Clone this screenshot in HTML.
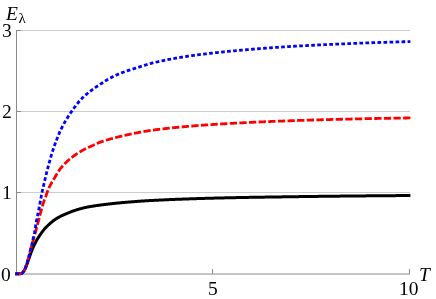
<!DOCTYPE html>
<html><head><meta charset="utf-8"><style>
html,body{margin:0;padding:0;background:#fff;}
body{width:436px;height:299px;overflow:hidden;position:relative;font-family:"Liberation Serif",serif;}
svg{position:absolute;left:0;top:0;}
.t{position:absolute;filter:grayscale(1);will-change:transform;font-size:19.5px;line-height:1;color:#000;white-space:nowrap;}
</style></head><body>
<svg width="436" height="299" viewBox="0 0 436 299">
<g stroke="#cccccc" stroke-width="1" fill="none">
<line x1="16.5" y1="30.5" x2="410" y2="30.5"/>
<line x1="16.5" y1="111.5" x2="410" y2="111.5"/>
<line x1="16.5" y1="192.5" x2="410" y2="192.5"/>
<line x1="16.5" y1="273.5" x2="410" y2="273.5"/>
</g>
<g stroke="#8a8a8a" stroke-width="1" fill="none">
<line x1="16.5" y1="30" x2="16.5" y2="274"/>
<line x1="16" y1="274.3" x2="410" y2="274.3" stroke="#b4b4b4"/>
<line x1="212.5" y1="269" x2="212.5" y2="274"/>
<line x1="409.5" y1="269" x2="409.5" y2="274"/>
<line x1="16.5" y1="30.5" x2="21" y2="30.5"/>
<line x1="16.5" y1="111.5" x2="21" y2="111.5"/>
<line x1="16.5" y1="192.5" x2="21" y2="192.5"/>
</g>
<path d="M15.30,273.80 L16.80,273.80 L16.84,273.80 L16.90,273.80 L16.98,273.80 L17.08,273.80 L17.19,273.80 L17.32,273.80 L17.45,273.80 L17.60,273.80 L17.75,273.80 L17.91,273.80 L18.08,273.80 L18.26,273.80 L18.45,273.80 L18.64,273.80 L18.85,273.80 L19.05,273.80 L19.27,273.80 L19.49,273.79 L19.72,273.78 L19.95,273.76 L20.19,273.74 L20.43,273.70 L20.68,273.64 L20.94,273.56 L21.20,273.46 L21.47,273.33 L21.74,273.17 L22.02,272.98 L22.30,272.75 L22.58,272.49 L22.88,272.19 L23.17,271.85 L23.47,271.47 L23.78,271.06 L24.09,270.61 L24.40,270.10 L24.72,269.51 L25.05,268.86 L25.37,268.14 L25.71,267.37 L26.04,266.55 L26.38,265.69 L26.73,264.80 L27.07,263.88 L27.43,262.92 L27.78,261.91 L28.14,260.88 L28.51,259.83 L28.88,258.77 L29.25,257.70 L29.62,256.61 L30.00,255.52 L30.38,254.44 L30.77,253.36 L31.16,252.27 L31.55,251.19 L31.95,250.12 L32.35,249.09 L32.75,248.11 L33.16,247.18 L33.57,246.29 L33.99,245.42 L34.40,244.57 L34.82,243.74 L35.25,242.93 L35.68,242.13 L36.11,241.34 L36.54,240.56 L36.98,239.80 L37.42,239.05 L37.86,238.32 L38.31,237.60 L38.76,236.89 L39.21,236.20 L39.67,235.51 L40.12,234.83 L40.59,234.16 L41.05,233.50 L41.52,232.84 L41.99,232.20 L42.46,231.56 L42.94,230.94 L43.42,230.33 L43.90,229.73 L44.39,229.15 L44.88,228.57 L45.37,228.02 L45.86,227.48 L46.36,226.95 L46.86,226.44 L47.36,225.95 L47.87,225.47 L48.37,225.01 L48.88,224.55 L49.40,224.10 L49.91,223.65 L50.43,223.19 L50.95,222.74 L51.48,222.28 L52.00,221.83 L52.53,221.39 L53.07,220.97 L53.60,220.56 L54.14,220.17 L54.68,219.79 L55.22,219.43 L55.77,219.07 L56.31,218.72 L56.86,218.37 L57.42,218.04 L57.97,217.71 L58.53,217.39 L59.09,217.08 L59.65,216.77 L60.22,216.47 L60.78,216.18 L61.35,215.89 L61.93,215.61 L62.50,215.34 L63.08,215.07 L63.66,214.81 L64.24,214.55 L64.82,214.30 L65.41,214.05 L66.00,213.80 L66.59,213.56 L67.19,213.31 L67.78,213.08 L68.38,212.84 L68.98,212.60 L69.58,212.36 L70.19,212.13 L70.80,211.89 L71.41,211.66 L72.02,211.43 L72.64,211.20 L73.25,210.98 L73.87,210.76 L74.49,210.55 L75.12,210.33 L75.74,210.13 L76.37,209.93 L77.00,209.73 L77.63,209.54 L78.27,209.36 L78.91,209.17 L79.54,208.99 L80.19,208.81 L80.83,208.64 L81.48,208.46 L82.12,208.29 L82.77,208.13 L83.43,207.96 L84.08,207.81 L84.74,207.65 L85.39,207.50 L86.05,207.36 L86.72,207.22 L87.38,207.09 L88.05,206.97 L88.72,206.85 L89.39,206.73 L90.06,206.61 L90.74,206.50 L91.41,206.38 L92.09,206.27 L92.78,206.16 L93.46,206.05 L94.14,205.95 L94.83,205.84 L95.52,205.74 L96.21,205.64 L96.91,205.54 L97.60,205.44 L98.30,205.34 L99.00,205.24 L99.70,205.15 L100.40,205.05 L101.11,204.96 L101.82,204.86 L102.53,204.77 L103.24,204.68 L103.95,204.59 L104.67,204.50 L105.38,204.42 L106.10,204.33 L106.82,204.24 L107.55,204.16 L108.27,204.07 L109.00,203.99 L109.73,203.91 L110.46,203.82 L111.19,203.74 L111.93,203.66 L112.66,203.58 L113.40,203.50 L114.14,203.42 L114.88,203.34 L115.63,203.26 L116.37,203.19 L117.12,203.11 L117.87,203.04 L118.62,202.96 L119.38,202.89 L120.13,202.82 L120.89,202.74 L121.65,202.67 L122.41,202.60 L123.17,202.53 L123.93,202.46 L124.70,202.39 L125.47,202.33 L126.24,202.26 L127.01,202.20 L127.78,202.13 L128.56,202.07 L129.34,202.00 L130.11,201.94 L130.89,201.88 L131.68,201.82 L132.46,201.75 L133.25,201.69 L134.04,201.63 L134.82,201.57 L135.62,201.51 L136.41,201.46 L137.20,201.40 L138.00,201.34 L138.80,201.29 L139.60,201.23 L140.40,201.17 L141.20,201.12 L142.01,201.07 L142.82,201.01 L143.62,200.96 L144.43,200.91 L145.25,200.86 L146.06,200.81 L146.88,200.76 L147.69,200.71 L148.51,200.66 L149.33,200.62 L150.16,200.57 L150.98,200.52 L151.80,200.48 L152.63,200.43 L153.46,200.39 L154.29,200.34 L155.12,200.30 L155.96,200.26 L156.79,200.21 L157.63,200.17 L158.47,200.13 L159.31,200.09 L160.15,200.04 L161.00,200.00 L161.84,199.96 L162.69,199.92 L163.54,199.88 L164.39,199.84 L165.24,199.81 L166.10,199.77 L166.95,199.73 L167.81,199.69 L168.67,199.65 L169.53,199.62 L170.39,199.58 L171.26,199.54 L172.12,199.51 L172.99,199.47 L173.86,199.44 L174.73,199.40 L175.60,199.37 L176.47,199.33 L177.35,199.30 L178.22,199.26 L179.10,199.23 L179.98,199.20 L180.86,199.16 L181.74,199.13 L182.63,199.10 L183.51,199.07 L184.40,199.03 L185.29,199.00 L186.18,198.97 L187.07,198.94 L187.97,198.91 L188.86,198.88 L189.76,198.85 L190.66,198.82 L191.56,198.79 L192.46,198.76 L193.36,198.73 L194.27,198.70 L195.17,198.67 L196.08,198.64 L196.99,198.61 L197.90,198.58 L198.81,198.56 L199.73,198.53 L200.64,198.50 L201.56,198.47 L202.48,198.45 L203.40,198.42 L204.32,198.39 L205.24,198.37 L206.17,198.34 L207.09,198.31 L208.02,198.29 L208.95,198.26 L209.88,198.24 L210.81,198.21 L211.75,198.19 L212.68,198.16 L213.62,198.14 L214.56,198.11 L215.50,198.09 L216.44,198.07 L217.38,198.04 L218.32,198.02 L219.27,198.00 L220.22,197.97 L221.16,197.95 L222.11,197.93 L223.06,197.90 L224.02,197.88 L224.97,197.86 L225.93,197.84 L226.88,197.82 L227.84,197.79 L228.80,197.77 L229.76,197.75 L230.73,197.73 L231.69,197.71 L232.66,197.69 L233.62,197.67 L234.59,197.65 L235.56,197.63 L236.54,197.61 L237.51,197.59 L238.48,197.57 L239.46,197.55 L240.44,197.53 L241.41,197.51 L242.39,197.50 L243.38,197.48 L244.36,197.46 L245.34,197.44 L246.33,197.42 L247.32,197.41 L248.31,197.39 L249.30,197.37 L250.29,197.36 L251.28,197.34 L252.27,197.32 L253.27,197.31 L254.27,197.29 L255.26,197.28 L256.26,197.26 L257.27,197.24 L258.27,197.23 L259.27,197.21 L260.28,197.20 L261.28,197.18 L262.29,197.17 L263.30,197.15 L264.31,197.13 L265.33,197.12 L266.34,197.10 L267.35,197.09 L268.37,197.07 L269.39,197.06 L270.41,197.04 L271.43,197.03 L272.45,197.01 L273.47,197.00 L274.50,196.98 L275.52,196.97 L276.55,196.95 L277.58,196.94 L278.61,196.92 L279.64,196.91 L280.67,196.89 L281.71,196.88 L282.74,196.86 L283.78,196.85 L284.82,196.83 L285.86,196.82 L286.90,196.80 L287.94,196.79 L288.99,196.77 L290.03,196.76 L291.08,196.74 L292.12,196.73 L293.17,196.71 L294.22,196.70 L295.27,196.68 L296.33,196.67 L297.38,196.65 L298.44,196.64 L299.49,196.62 L300.55,196.61 L301.61,196.59 L302.67,196.58 L303.73,196.57 L304.80,196.55 L305.86,196.54 L306.93,196.52 L308.00,196.51 L309.06,196.49 L310.13,196.48 L311.21,196.47 L312.28,196.45 L313.35,196.44 L314.43,196.43 L315.50,196.41 L316.58,196.40 L317.66,196.39 L318.74,196.37 L319.82,196.36 L320.90,196.35 L321.99,196.33 L323.07,196.32 L324.16,196.31 L325.25,196.30 L326.34,196.28 L327.43,196.27 L328.52,196.26 L329.61,196.24 L330.71,196.23 L331.80,196.22 L332.90,196.21 L334.00,196.20 L335.10,196.18 L336.20,196.17 L337.30,196.16 L338.40,196.15 L339.51,196.14 L340.61,196.12 L341.72,196.11 L342.83,196.10 L343.94,196.09 L345.05,196.08 L346.16,196.07 L347.28,196.05 L348.39,196.04 L349.51,196.03 L350.62,196.02 L351.74,196.01 L352.86,196.00 L353.98,195.99 L355.10,195.98 L356.23,195.97 L357.35,195.95 L358.48,195.94 L359.61,195.93 L360.73,195.92 L361.86,195.91 L362.99,195.90 L364.13,195.89 L365.26,195.88 L366.39,195.87 L367.53,195.86 L368.67,195.85 L369.80,195.84 L370.94,195.83 L372.08,195.82 L373.23,195.81 L374.37,195.80 L375.51,195.79 L376.66,195.78 L377.80,195.77 L378.95,195.76 L380.10,195.75 L381.25,195.74 L382.40,195.73 L383.56,195.72 L384.71,195.71 L385.87,195.70 L387.02,195.69 L388.18,195.68 L389.34,195.67 L390.50,195.66 L391.66,195.65 L392.82,195.64 L393.99,195.63 L395.15,195.63 L396.32,195.62 L397.48,195.61 L398.65,195.60 L399.82,195.59 L400.99,195.58 L402.16,195.57 L403.34,195.56 L404.51,195.55 L405.69,195.54 L406.86,195.54 L408.04,195.53 L409.22,195.52 L410.40,195.51" stroke="#000" stroke-width="3" fill="none" stroke-linejoin="round"/>
<path d="M15.30,273.80 L16.80,273.80 L16.84,273.80 L16.90,273.80 L16.98,273.80 L17.08,273.80 L17.19,273.80 L17.32,273.80 L17.45,273.80 L17.60,273.80 L17.75,273.80 L17.91,273.80 L18.08,273.80 L18.26,273.80 L18.45,273.80 L18.64,273.80 L18.85,273.80 L19.05,273.80 L19.27,273.80 L19.49,273.80 L19.72,273.79 L19.95,273.79 L20.19,273.77 L20.43,273.75 L20.68,273.72 L20.94,273.66 L21.20,273.59 L21.47,273.49 L21.74,273.37 L22.02,273.20 L22.30,273.00 L22.58,272.75 L22.88,272.45 L23.17,272.10 L23.47,271.71 L23.78,271.25 L24.09,270.74 L24.40,270.15 L24.72,269.48 L25.05,268.73 L25.37,267.91 L25.71,267.02 L26.04,266.07 L26.38,265.07 L26.73,264.01 L27.07,262.89 L27.43,261.72 L27.78,260.49 L28.14,259.21 L28.51,257.89 L28.88,256.51 L29.25,255.05 L29.62,253.53 L30.00,251.98 L30.38,250.43 L30.77,248.90 L31.16,247.43 L31.55,245.98 L31.95,244.55 L32.35,243.13 L32.75,241.70 L33.16,240.26 L33.57,238.80 L33.99,237.34 L34.40,235.86 L34.82,234.38 L35.25,232.88 L35.68,231.35 L36.11,229.79 L36.54,228.19 L36.98,226.57 L37.42,224.93 L37.86,223.27 L38.31,221.58 L38.76,219.81 L39.21,218.00 L39.67,216.18 L40.12,214.37 L40.59,212.61 L41.05,210.89 L41.52,209.18 L41.99,207.48 L42.46,205.83 L42.94,204.25 L43.42,202.76 L43.90,201.38 L44.39,200.08 L44.88,198.82 L45.37,197.55 L45.86,196.24 L46.36,194.76 L46.86,193.18 L47.36,191.79 L47.87,190.48 L48.37,189.23 L48.88,188.05 L49.40,186.94 L49.91,185.89 L50.43,184.90 L50.95,183.94 L51.48,183.01 L52.00,182.10 L52.53,181.21 L53.07,180.33 L53.60,179.45 L54.14,178.57 L54.68,177.67 L55.22,176.76 L55.77,175.82 L56.31,174.89 L56.86,173.96 L57.42,173.04 L57.97,172.14 L58.53,171.27 L59.09,170.44 L59.65,169.66 L60.22,168.92 L60.78,168.21 L61.35,167.51 L61.93,166.83 L62.50,166.17 L63.08,165.52 L63.66,164.89 L64.24,164.27 L64.82,163.66 L65.41,163.07 L66.00,162.49 L66.59,161.92 L67.19,161.36 L67.78,160.82 L68.38,160.28 L68.98,159.75 L69.58,159.24 L70.19,158.73 L70.80,158.23 L71.41,157.75 L72.02,157.26 L72.64,156.79 L73.25,156.33 L73.87,155.87 L74.49,155.42 L75.12,154.98 L75.74,154.55 L76.37,154.12 L77.00,153.70 L77.63,153.29 L78.27,152.88 L78.91,152.48 L79.54,152.09 L80.19,151.71 L80.83,151.33 L81.48,150.96 L82.12,150.59 L82.77,150.24 L83.43,149.89 L84.08,149.54 L84.74,149.20 L85.39,148.87 L86.05,148.55 L86.72,148.23 L87.38,147.91 L88.05,147.60 L88.72,147.29 L89.39,146.98 L90.06,146.68 L90.74,146.38 L91.41,146.08 L92.09,145.78 L92.78,145.48 L93.46,145.16 L94.14,144.84 L94.83,144.51 L95.52,144.18 L96.21,143.86 L96.91,143.53 L97.60,143.22 L98.30,142.91 L99.00,142.62 L99.70,142.35 L100.40,142.09 L101.11,141.84 L101.82,141.59 L102.53,141.35 L103.24,141.11 L103.95,140.88 L104.67,140.65 L105.38,140.43 L106.10,140.20 L106.82,139.99 L107.55,139.77 L108.27,139.56 L109.00,139.35 L109.73,139.14 L110.46,138.94 L111.19,138.74 L111.93,138.54 L112.66,138.34 L113.40,138.14 L114.14,137.95 L114.88,137.76 L115.63,137.57 L116.37,137.38 L117.12,137.19 L117.87,137.01 L118.62,136.83 L119.38,136.64 L120.13,136.46 L120.89,136.28 L121.65,136.10 L122.41,135.92 L123.17,135.74 L123.93,135.57 L124.70,135.39 L125.47,135.22 L126.24,135.05 L127.01,134.87 L127.78,134.70 L128.56,134.53 L129.34,134.37 L130.11,134.20 L130.89,134.04 L131.68,133.87 L132.46,133.71 L133.25,133.55 L134.04,133.39 L134.82,133.23 L135.62,133.08 L136.41,132.92 L137.20,132.77 L138.00,132.62 L138.80,132.47 L139.60,132.32 L140.40,132.18 L141.20,132.03 L142.01,131.88 L142.82,131.74 L143.62,131.59 L144.43,131.44 L145.25,131.30 L146.06,131.16 L146.88,131.02 L147.69,130.88 L148.51,130.75 L149.33,130.63 L150.16,130.50 L150.98,130.39 L151.80,130.27 L152.63,130.16 L153.46,130.04 L154.29,129.93 L155.12,129.82 L155.96,129.71 L156.79,129.60 L157.63,129.50 L158.47,129.39 L159.31,129.29 L160.15,129.18 L161.00,129.08 L161.84,128.98 L162.69,128.88 L163.54,128.78 L164.39,128.68 L165.24,128.59 L166.10,128.49 L166.95,128.39 L167.81,128.30 L168.67,128.21 L169.53,128.11 L170.39,128.02 L171.26,127.93 L172.12,127.84 L172.99,127.75 L173.86,127.67 L174.73,127.58 L175.60,127.49 L176.47,127.41 L177.35,127.32 L178.22,127.24 L179.10,127.15 L179.98,127.07 L180.86,126.99 L181.74,126.91 L182.63,126.83 L183.51,126.75 L184.40,126.67 L185.29,126.59 L186.18,126.51 L187.07,126.43 L187.97,126.36 L188.86,126.28 L189.76,126.20 L190.66,126.13 L191.56,126.05 L192.46,125.98 L193.36,125.91 L194.27,125.83 L195.17,125.76 L196.08,125.69 L196.99,125.62 L197.90,125.55 L198.81,125.48 L199.73,125.41 L200.64,125.34 L201.56,125.27 L202.48,125.20 L203.40,125.14 L204.32,125.07 L205.24,125.01 L206.17,124.94 L207.09,124.87 L208.02,124.81 L208.95,124.75 L209.88,124.68 L210.81,124.62 L211.75,124.56 L212.68,124.50 L213.62,124.43 L214.56,124.37 L215.50,124.31 L216.44,124.25 L217.38,124.19 L218.32,124.13 L219.27,124.07 L220.22,124.02 L221.16,123.96 L222.11,123.90 L223.06,123.84 L224.02,123.79 L224.97,123.73 L225.93,123.67 L226.88,123.62 L227.84,123.56 L228.80,123.51 L229.76,123.45 L230.73,123.40 L231.69,123.35 L232.66,123.29 L233.62,123.24 L234.59,123.19 L235.56,123.13 L236.54,123.08 L237.51,123.03 L238.48,122.98 L239.46,122.93 L240.44,122.88 L241.41,122.83 L242.39,122.78 L243.38,122.73 L244.36,122.68 L245.34,122.63 L246.33,122.58 L247.32,122.53 L248.31,122.48 L249.30,122.44 L250.29,122.39 L251.28,122.34 L252.27,122.30 L253.27,122.25 L254.27,122.20 L255.26,122.16 L256.26,122.11 L257.27,122.07 L258.27,122.02 L259.27,121.98 L260.28,121.93 L261.28,121.89 L262.29,121.85 L263.30,121.80 L264.31,121.76 L265.33,121.72 L266.34,121.67 L267.35,121.63 L268.37,121.59 L269.39,121.55 L270.41,121.51 L271.43,121.46 L272.45,121.42 L273.47,121.38 L274.50,121.34 L275.52,121.30 L276.55,121.26 L277.58,121.22 L278.61,121.18 L279.64,121.14 L280.67,121.10 L281.71,121.06 L282.74,121.03 L283.78,120.99 L284.82,120.95 L285.86,120.91 L286.90,120.87 L287.94,120.84 L288.99,120.80 L290.03,120.76 L291.08,120.73 L292.12,120.69 L293.17,120.65 L294.22,120.62 L295.27,120.58 L296.33,120.54 L297.38,120.51 L298.44,120.47 L299.49,120.44 L300.55,120.40 L301.61,120.37 L302.67,120.33 L303.73,120.29 L304.80,120.26 L305.86,120.22 L306.93,120.19 L308.00,120.16 L309.06,120.12 L310.13,120.09 L311.21,120.05 L312.28,120.02 L313.35,119.99 L314.43,119.95 L315.50,119.92 L316.58,119.89 L317.66,119.86 L318.74,119.83 L319.82,119.79 L320.90,119.76 L321.99,119.73 L323.07,119.70 L324.16,119.67 L325.25,119.64 L326.34,119.61 L327.43,119.58 L328.52,119.56 L329.61,119.53 L330.71,119.50 L331.80,119.47 L332.90,119.44 L334.00,119.42 L335.10,119.39 L336.20,119.36 L337.30,119.34 L338.40,119.31 L339.51,119.28 L340.61,119.26 L341.72,119.23 L342.83,119.21 L343.94,119.18 L345.05,119.15 L346.16,119.13 L347.28,119.10 L348.39,119.08 L349.51,119.05 L350.62,119.03 L351.74,119.00 L352.86,118.98 L353.98,118.95 L355.10,118.93 L356.23,118.91 L357.35,118.88 L358.48,118.86 L359.61,118.83 L360.73,118.81 L361.86,118.79 L362.99,118.76 L364.13,118.74 L365.26,118.72 L366.39,118.69 L367.53,118.67 L368.67,118.65 L369.80,118.63 L370.94,118.60 L372.08,118.58 L373.23,118.56 L374.37,118.54 L375.51,118.52 L376.66,118.50 L377.80,118.47 L378.95,118.45 L380.10,118.43 L381.25,118.41 L382.40,118.39 L383.56,118.37 L384.71,118.35 L385.87,118.33 L387.02,118.31 L388.18,118.29 L389.34,118.27 L390.50,118.25 L391.66,118.23 L392.82,118.21 L393.99,118.19 L395.15,118.17 L396.32,118.15 L397.48,118.13 L398.65,118.11 L399.82,118.09 L400.99,118.07 L402.16,118.05 L403.34,118.03 L404.51,118.01 L405.69,118.00 L406.86,117.98 L408.04,117.96 L409.22,117.94 L410.40,117.92" stroke="#ff0000" stroke-width="2.8" fill="none" stroke-dasharray="7.3 2.337" stroke-dashoffset="0.00" stroke-linejoin="round"/>
<path d="M15.30,273.80 L16.80,273.80 L16.84,273.80 L16.90,273.80 L16.98,273.80 L17.08,273.80 L17.19,273.80 L17.32,273.80 L17.45,273.80 L17.60,273.80 L17.75,273.80 L17.91,273.80 L18.08,273.80 L18.26,273.80 L18.45,273.80 L18.64,273.80 L18.85,273.80 L19.05,273.80 L19.27,273.80 L19.49,273.80 L19.72,273.80 L19.95,273.79 L20.19,273.78 L20.43,273.76 L20.68,273.73 L20.94,273.69 L21.20,273.63 L21.47,273.54 L21.74,273.42 L22.02,273.26 L22.30,273.06 L22.58,272.82 L22.88,272.52 L23.17,272.16 L23.47,271.75 L23.78,271.27 L24.09,270.73 L24.40,270.12 L24.72,269.44 L25.05,268.70 L25.37,267.89 L25.71,267.01 L26.04,266.06 L26.38,265.06 L26.73,264.00 L27.07,262.89 L27.43,261.73 L27.78,260.51 L28.14,259.23 L28.51,257.91 L28.88,256.53 L29.25,255.10 L29.62,253.63 L30.00,252.11 L30.38,250.55 L30.77,248.96 L31.16,247.33 L31.55,245.68 L31.95,243.98 L32.35,242.25 L32.75,240.48 L33.16,238.68 L33.57,236.83 L33.99,234.95 L34.40,233.02 L34.82,230.74 L35.25,228.15 L35.68,225.49 L36.11,223.00 L36.54,220.75 L36.98,218.57 L37.42,216.42 L37.86,214.24 L38.31,211.98 L38.76,209.67 L39.21,207.33 L39.67,204.95 L40.12,202.52 L40.59,199.98 L41.05,197.41 L41.52,194.91 L41.99,192.58 L42.46,190.46 L42.94,188.43 L43.42,186.39 L43.90,184.26 L44.39,182.08 L44.88,179.90 L45.37,177.78 L45.86,175.72 L46.36,173.70 L46.86,171.72 L47.36,169.77 L47.87,167.84 L48.37,165.93 L48.88,164.05 L49.40,162.19 L49.91,160.33 L50.43,158.47 L50.95,156.64 L51.48,154.85 L52.00,153.11 L52.53,151.39 L53.07,149.72 L53.60,148.08 L54.14,146.50 L54.68,144.97 L55.22,143.48 L55.77,142.03 L56.31,140.59 L56.86,139.17 L57.42,137.75 L57.97,136.35 L58.53,134.97 L59.09,133.62 L59.65,132.31 L60.22,131.06 L60.78,129.85 L61.35,128.67 L61.93,127.52 L62.50,126.40 L63.08,125.30 L63.66,124.22 L64.24,123.16 L64.82,122.12 L65.41,121.10 L66.00,120.10 L66.59,119.12 L67.19,118.16 L67.78,117.21 L68.38,116.28 L68.98,115.36 L69.58,114.45 L70.19,113.55 L70.80,112.66 L71.41,111.78 L72.02,110.90 L72.64,110.02 L73.25,109.15 L73.87,108.28 L74.49,107.42 L75.12,106.57 L75.74,105.73 L76.37,104.90 L77.00,104.09 L77.63,103.29 L78.27,102.51 L78.91,101.74 L79.54,101.00 L80.19,100.27 L80.83,99.57 L81.48,98.89 L82.12,98.23 L82.77,97.60 L83.43,96.98 L84.08,96.37 L84.74,95.78 L85.39,95.19 L86.05,94.62 L86.72,94.06 L87.38,93.51 L88.05,92.97 L88.72,92.43 L89.39,91.91 L90.06,91.39 L90.74,90.88 L91.41,90.37 L92.09,89.87 L92.78,89.37 L93.46,88.88 L94.14,88.40 L94.83,87.92 L95.52,87.44 L96.21,86.96 L96.91,86.49 L97.60,86.02 L98.30,85.56 L99.00,85.09 L99.70,84.62 L100.40,84.15 L101.11,83.68 L101.82,83.21 L102.53,82.74 L103.24,82.28 L103.95,81.82 L104.67,81.37 L105.38,80.92 L106.10,80.47 L106.82,80.03 L107.55,79.60 L108.27,79.17 L109.00,78.75 L109.73,78.34 L110.46,77.94 L111.19,77.54 L111.93,77.15 L112.66,76.77 L113.40,76.40 L114.14,76.04 L114.88,75.69 L115.63,75.35 L116.37,75.01 L117.12,74.69 L117.87,74.37 L118.62,74.06 L119.38,73.76 L120.13,73.46 L120.89,73.16 L121.65,72.87 L122.41,72.58 L123.17,72.30 L123.93,72.02 L124.70,71.74 L125.47,71.47 L126.24,71.20 L127.01,70.93 L127.78,70.66 L128.56,70.40 L129.34,70.14 L130.11,69.88 L130.89,69.63 L131.68,69.37 L132.46,69.12 L133.25,68.87 L134.04,68.62 L134.82,68.38 L135.62,68.13 L136.41,67.89 L137.20,67.64 L138.00,67.40 L138.80,67.15 L139.60,66.89 L140.40,66.63 L141.20,66.37 L142.01,66.11 L142.82,65.84 L143.62,65.58 L144.43,65.32 L145.25,65.06 L146.06,64.81 L146.88,64.56 L147.69,64.31 L148.51,64.07 L149.33,63.84 L150.16,63.61 L150.98,63.39 L151.80,63.18 L152.63,62.98 L153.46,62.77 L154.29,62.57 L155.12,62.38 L155.96,62.18 L156.79,61.99 L157.63,61.79 L158.47,61.61 L159.31,61.42 L160.15,61.23 L161.00,61.05 L161.84,60.87 L162.69,60.69 L163.54,60.51 L164.39,60.34 L165.24,60.17 L166.10,59.99 L166.95,59.82 L167.81,59.66 L168.67,59.49 L169.53,59.33 L170.39,59.16 L171.26,59.00 L172.12,58.84 L172.99,58.69 L173.86,58.53 L174.73,58.38 L175.60,58.22 L176.47,58.07 L177.35,57.92 L178.22,57.77 L179.10,57.63 L179.98,57.48 L180.86,57.34 L181.74,57.19 L182.63,57.05 L183.51,56.91 L184.40,56.77 L185.29,56.64 L186.18,56.50 L187.07,56.36 L187.97,56.23 L188.86,56.10 L189.76,55.97 L190.66,55.84 L191.56,55.71 L192.46,55.58 L193.36,55.45 L194.27,55.33 L195.17,55.21 L196.08,55.08 L196.99,54.96 L197.90,54.84 L198.81,54.72 L199.73,54.60 L200.64,54.48 L201.56,54.37 L202.48,54.25 L203.40,54.14 L204.32,54.02 L205.24,53.91 L206.17,53.80 L207.09,53.69 L208.02,53.58 L208.95,53.47 L209.88,53.36 L210.81,53.25 L211.75,53.15 L212.68,53.04 L213.62,52.94 L214.56,52.83 L215.50,52.73 L216.44,52.63 L217.38,52.52 L218.32,52.42 L219.27,52.32 L220.22,52.22 L221.16,52.12 L222.11,52.02 L223.06,51.93 L224.02,51.83 L224.97,51.73 L225.93,51.64 L226.88,51.54 L227.84,51.45 L228.80,51.35 L229.76,51.26 L230.73,51.17 L231.69,51.07 L232.66,50.98 L233.62,50.89 L234.59,50.80 L235.56,50.71 L236.54,50.62 L237.51,50.53 L238.48,50.44 L239.46,50.35 L240.44,50.26 L241.41,50.17 L242.39,50.08 L243.38,50.00 L244.36,49.91 L245.34,49.82 L246.33,49.74 L247.32,49.65 L248.31,49.56 L249.30,49.48 L250.29,49.39 L251.28,49.31 L252.27,49.23 L253.27,49.14 L254.27,49.06 L255.26,48.98 L256.26,48.90 L257.27,48.81 L258.27,48.73 L259.27,48.65 L260.28,48.57 L261.28,48.49 L262.29,48.42 L263.30,48.34 L264.31,48.26 L265.33,48.18 L266.34,48.11 L267.35,48.03 L268.37,47.96 L269.39,47.88 L270.41,47.81 L271.43,47.73 L272.45,47.66 L273.47,47.59 L274.50,47.52 L275.52,47.45 L276.55,47.37 L277.58,47.30 L278.61,47.23 L279.64,47.17 L280.67,47.10 L281.71,47.03 L282.74,46.96 L283.78,46.90 L284.82,46.83 L285.86,46.76 L286.90,46.70 L287.94,46.64 L288.99,46.57 L290.03,46.51 L291.08,46.45 L292.12,46.38 L293.17,46.32 L294.22,46.26 L295.27,46.20 L296.33,46.14 L297.38,46.08 L298.44,46.02 L299.49,45.96 L300.55,45.90 L301.61,45.84 L302.67,45.79 L303.73,45.73 L304.80,45.67 L305.86,45.62 L306.93,45.56 L308.00,45.50 L309.06,45.45 L310.13,45.39 L311.21,45.34 L312.28,45.28 L313.35,45.23 L314.43,45.17 L315.50,45.12 L316.58,45.07 L317.66,45.01 L318.74,44.96 L319.82,44.91 L320.90,44.86 L321.99,44.80 L323.07,44.75 L324.16,44.70 L325.25,44.65 L326.34,44.60 L327.43,44.55 L328.52,44.50 L329.61,44.45 L330.71,44.40 L331.80,44.35 L332.90,44.30 L334.00,44.25 L335.10,44.20 L336.20,44.15 L337.30,44.11 L338.40,44.06 L339.51,44.01 L340.61,43.96 L341.72,43.92 L342.83,43.87 L343.94,43.82 L345.05,43.78 L346.16,43.73 L347.28,43.68 L348.39,43.64 L349.51,43.59 L350.62,43.55 L351.74,43.50 L352.86,43.46 L353.98,43.41 L355.10,43.37 L356.23,43.32 L357.35,43.28 L358.48,43.24 L359.61,43.19 L360.73,43.15 L361.86,43.11 L362.99,43.07 L364.13,43.03 L365.26,42.98 L366.39,42.94 L367.53,42.90 L368.67,42.86 L369.80,42.82 L370.94,42.78 L372.08,42.74 L373.23,42.70 L374.37,42.66 L375.51,42.62 L376.66,42.58 L377.80,42.55 L378.95,42.51 L380.10,42.47 L381.25,42.43 L382.40,42.39 L383.56,42.36 L384.71,42.32 L385.87,42.28 L387.02,42.25 L388.18,42.21 L389.34,42.18 L390.50,42.14 L391.66,42.10 L392.82,42.07 L393.99,42.04 L395.15,42.00 L396.32,41.97 L397.48,41.93 L398.65,41.90 L399.82,41.86 L400.99,41.83 L402.16,41.80 L403.34,41.76 L404.51,41.73 L405.69,41.70 L406.86,41.67 L408.04,41.63 L409.22,41.60 L410.40,41.57" stroke="#0000ff" stroke-width="2.8" fill="none" stroke-dasharray="3.7 2.326" stroke-dashoffset="0.00" stroke-linejoin="round"/>
</svg>
<div class="t" style="left:6.3px;top:4px;"><i>E</i><span style="font-size:15px;position:relative;top:2.5px;left:0.7px;">λ</span></div>
<div class="t" style="left:2px;top:21px;">3</div>
<div class="t" style="left:1.7px;top:102px;">2</div>
<div class="t" style="left:2px;top:183px;">1</div>
<div class="t" style="left:1.3px;top:264.5px;">0</div>
<div class="t" style="left:207.7px;top:278.5px;">5</div>
<div class="t" style="left:399px;top:278.5px;">10</div>
<div class="t" style="left:419.1px;top:264.7px;"><i>T</i></div>
</body></html>
